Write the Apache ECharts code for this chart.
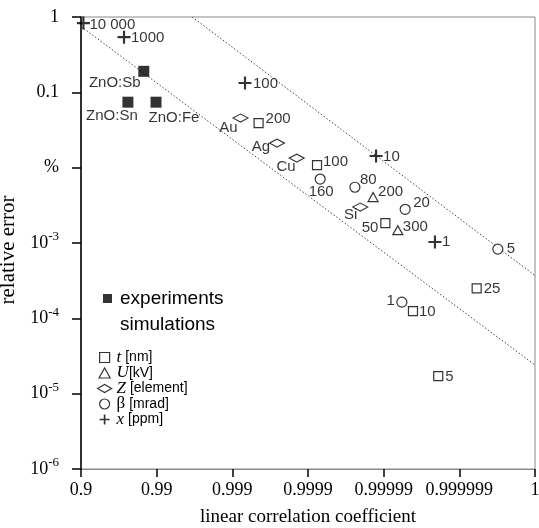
<!DOCTYPE html>
<html>
<head>
<meta charset="utf-8">
<script src="https://cdn.jsdelivr.net/npm/echarts@6/dist/echarts.min.js"></script>
<style>html,body{margin:0;padding:0;background:#fff}#chart{width:539px;height:528px}</style>
</head>
<body>
<div id="chart"></div>
<script>
// x: linear correlation coefficient r (plotted as 1 - r on an inverted log axis)
// y: relative error
const xTickLabels = ['0.9', '0.99', '0.999', '0.9999', '0.99999', '0.999999', '1'];

const expNames = ['ZnO:Sb', 'ZnO:Sn', 'ZnO:Fe'];
const expR = [0.9852, 0.976, 0.9898];
const expErr = [0.19, 0.074, 0.074];

const tNames = ['200', '100', '50', '25', '10', '5'];
const tR = [0.99955, 0.999924, 0.9999905, 0.99999941, 0.9999959, 0.9999981];
const tErr = [0.039, 0.0108, 1.84e-3, 2.5e-4, 1.25e-4, 1.71e-5];

const uNames = ['200', '300'];
const uR = [0.9999862, 0.9999935];
const uErr = [4.07e-3, 1.48e-3];

const zNames = ['Au', 'Ag', 'Cu', 'Si'];
const zR = [0.99922, 0.999743, 0.999859, 0.9999796];
const zErr = [0.0456, 0.0212, 0.0134, 3.0e-3];

const betaNames = ['160', '80', '20', '5', '1'];
const betaR = [0.999931, 0.999976, 0.9999948, 0.99999969, 0.99999425];
const betaErr = [7.06e-3, 5.5e-3, 2.8e-3, 8.3e-4, 1.64e-4];

const ppmNames = ['10 000', '1000', '100', '10', '1'];
const ppmR = [0.907, 0.973, 0.99932, 0.9999874, 0.9999979];
const ppmErr = [0.83, 0.54, 0.133, 0.0143, 1.03e-3];

// dotted guide lines
const lowLineR = [0.9, 0.9999999];
const lowLineErr = [0.75, 2.4e-5];
const highLineR = [0.99661, 0.9999999];
const highLineErr = [1, 3.7e-4];

// label placement: [dx, dy, align] from the mark centre
const expPlace = [[-29, 12, 'center'], [-16, 14, 'center'], [18, 16, 'center']];
const tPlace = [[7, -4, 'left'], [6, -3, 'left'], [-7, 5, 'right'], [7, 1, 'left'], [6, 1, 'left'], [7, 1, 'left']];
const uPlace = [[5, -5, 'left'], [5, -3, 'left']];
const zPlace = [[-3, 10, 'right'], [-7, 4, 'right'], [-1, 9, 'right'], [-3, 8, 'right']];
const betaPlace = [[1, 13, 'center'], [5, -7, 'left'], [8, -6, 'left'], [9, 0, 'left'], [-7, -1, 'right']];
const ppmPlace = [[6, 2, 'left'], [7, 1, 'left'], [8, 1, 'left'], [7, 1, 'left'], [7, 0, 'left']];

const legendText = {
  t: '{i|t} [nm]',
  U: '{i|U}[kV]',
  Z: '{i|Z} [element]',
  beta: '{g|β} [mrad]',
  x: '{i|x} [ppm]'
};

function pts(r, err, names, place) {
  return r.map((v, i) => ({
    value: [1 - v, err[i]],
    name: names[i],
    label: { offset: [place[i][0], place[i][1]], align: place[i][2] }
  }));
}

function linePts(r, err) {
  return r.map((v, i) => [1 - v, err[i]]);
}

const chart = echarts.init(document.getElementById('chart'));

const ptLabel = {
  show: true, position: 'inside', formatter: '{b}',
  fontFamily: 'Liberation Sans', fontSize: 15, color: '#000', verticalAlign: 'middle'
};
const hollow = { color: '#fff', borderColor: '#000', borderWidth: 1.2 };
const guide = { color: '#444', width: 1, type: [1.5, 2] };
const plusPath = 'path://M5,0H7V5H12V7H7V12H5V7H0V5H5Z';

const option = {
  animation: false,
  grid: {
    left: 81, right: 4, top: 17, bottom: 59, outerBoundsMode: 'none',
    show: true, borderColor: '#888', borderWidth: 1
  },
  xAxis: {
    type: 'log', logBase: 10, inverse: true, min: 1e-7, max: 0.1, splitNumber: 6,
    name: 'linear correlation coefficient', nameLocation: 'middle', nameGap: 39,
    nameTextStyle: { fontFamily: 'Liberation Serif', fontSize: 19, color: '#000' },
    axisLine: { lineStyle: { color: '#888', width: 1 } },
    axisTick: { length: 8, lineStyle: { color: '#000', width: 1.5 } },
    axisLabel: {
      margin: 12, fontFamily: 'Liberation Serif', fontSize: 18, color: '#000',
      formatter: v => xTickLabels[Math.round(-Math.log10(v)) - 1]
    },
    splitLine: { show: false },
    minorTick: { show: false }
  },
  yAxis: {
    type: 'log', logBase: 10, min: 1e-6, max: 1, splitNumber: 6,
    name: 'relative error', nameLocation: 'middle', nameGap: 52,
    nameTextStyle: { fontFamily: 'Liberation Serif', fontSize: 21, color: '#000', padding: [0, 14, 0, 0] },
    axisLine: { lineStyle: { color: '#000', width: 1.5 } },
    axisTick: { length: 9, lineStyle: { color: '#000', width: 1.5 } },
    axisLabel: {
      margin: 22, fontFamily: 'Liberation Serif', fontSize: 18, color: '#000',
      formatter: v => {
        const e = Math.round(Math.log10(v));
        if (e === 0) return '1';
        if (e === -1) return '0.1';
        if (e === -2) return '%';
        return '10{sup|' + e + '}';
      },
      rich: { sup: { fontFamily: 'Liberation Serif', fontSize: 13, verticalAlign: 'top', padding: [0, 0, 12, 0] } }
    },
    splitLine: { show: false }
  },
  legend: [
    {
      data: ['experiments'], left: 98, top: 284, itemWidth: 9, itemHeight: 9,
      selectedMode: false,
      textStyle: { fontFamily: 'Liberation Sans', fontSize: 19, color: '#000', padding: [0, 0, 0, 3] }
    },
    {
      data: [
        { name: 't', icon: 'path://M0,0H10V10H0Z', itemStyle: hollow },
        { name: 'U', icon: 'path://M5,0L10,9H0Z', itemStyle: hollow },
        { name: 'Z', icon: 'path://M0,4L7,0L14,4L7,8Z', itemStyle: hollow },
        { name: 'beta', icon: 'circle', itemStyle: hollow },
        { name: 'x', icon: plusPath, itemStyle: { color: '#000' } }
      ],
      orient: 'vertical', left: 92, top: 344, itemWidth: 14, itemHeight: 10, itemGap: -1.5,
      selectedMode: false,
      formatter: name => legendText[name],
      textStyle: {
        fontFamily: 'Liberation Sans', fontSize: 14, color: '#000', lineHeight: 15,
        rich: {
          i: { fontFamily: 'Liberation Serif', fontStyle: 'italic', fontSize: 17, lineHeight: 15 },
          g: { fontFamily: 'Liberation Serif', fontSize: 17, lineHeight: 15 }
        }
      }
    }
  ],
  graphic: [
    { type: 'text', left: 120, top: 315, style: { text: 'simulations', font: '19px "Liberation Sans"', fill: '#000' } }
  ],
  series: [
    { type: 'line', data: linePts(lowLineR, lowLineErr), symbol: 'none', lineStyle: guide, silent: true, z: 1 },
    { type: 'line', data: linePts(highLineR, highLineErr), symbol: 'none', lineStyle: guide, silent: true, z: 1 },
    {
      name: 'experiments', type: 'scatter', symbol: 'rect', symbolSize: 11,
      itemStyle: { color: '#000' }, label: ptLabel, data: pts(expR, expErr, expNames, expPlace)
    },
    {
      name: 't', type: 'scatter', symbol: 'rect', symbolSize: 9,
      itemStyle: hollow, label: ptLabel, data: pts(tR, tErr, tNames, tPlace)
    },
    {
      name: 'U', type: 'scatter', symbol: 'triangle', symbolSize: [10, 9],
      itemStyle: hollow, label: ptLabel, data: pts(uR, uErr, uNames, uPlace)
    },
    {
      name: 'Z', type: 'scatter', symbol: 'diamond', symbolSize: [15, 8],
      itemStyle: hollow, label: ptLabel, data: pts(zR, zErr, zNames, zPlace)
    },
    {
      name: 'beta', type: 'scatter', symbol: 'circle', symbolSize: 10,
      itemStyle: hollow, label: ptLabel, data: pts(betaR, betaErr, betaNames, betaPlace)
    },
    {
      name: 'x', type: 'scatter', symbol: plusPath, symbolSize: 13,
      itemStyle: { color: '#000' }, label: ptLabel, data: pts(ppmR, ppmErr, ppmNames, ppmPlace)
    }
  ]
};

chart.setOption(option);
window.addEventListener('resize', () => chart.resize());
</script>
</body>
</html>
